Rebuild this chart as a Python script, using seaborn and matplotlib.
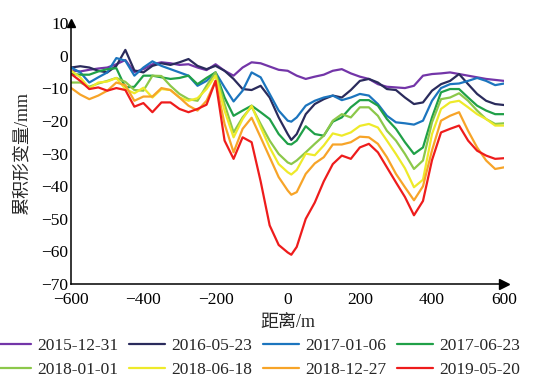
import pandas as pd
import matplotlib
matplotlib.use('Agg')
import matplotlib.pyplot as plt
import seaborn as sns

# distance along the profile (m)
distance = list(range(-600, 1, 25)) + [10] + list(range(25, 601, 25))

dates = ['2015-12-31', '2016-05-23', '2017-01-06', '2017-06-23',
         '2018-01-01', '2018-06-18', '2018-12-27', '2019-05-20']
colors = ['#7335A8', '#2A2B5C', '#1C75BE', '#20A048',
          '#8CC84A', '#EEEA2A', '#F7A428', '#EE1C1C']

# cumulative deformation (mm)
d_20151231 = [-4.5, -4.8, -4.3, -3.9, -3.6, -2.6, -1.3, -5.0, -4.1, -2.6,
              -2.0, -2.3, -2.8, -2.6, -3.6, -4.4, -2.6, -4.6, -6.1, -3.6,
              -2.0, -2.3, -3.3, -4.3, -4.6, -5.2, -6.1, -7.1, -6.4, -5.8,
              -4.6, -4.1, -5.4, -6.4, -7.1, -8.7, -9.5, -9.7, -9.9, -9.2,
              -6.1, -5.6, -5.4, -5.1, -5.6, -6.1, -6.6, -7.1, -7.4, -7.7]
d_20160523 = [-3.6, -3.2, -3.6, -4.6, -5.1, -3.1, 1.8, -4.5, -5.1, -3.1,
              -2.3, -2.8, -2.0, -1.0, -3.1, -4.1, -3.1, -4.6, -7.1, -10.2,
              -10.5, -9.2, -12.8, -18.9, -24.0, -25.8, -24.0, -17.9, -14.8, -13.3,
              -12.2, -12.8, -10.5, -7.7, -7.1, -8.2, -10.2, -10.5, -12.8, -14.8,
              -14.3, -10.7, -8.7, -7.7, -5.6, -8.7, -11.7, -13.8, -14.8, -15.1]
d_20170106 = [-3.6, -5.1, -8.2, -6.6, -5.1, -0.7, -1.5, -6.1, -3.6, -1.7,
              -3.1, -4.1, -5.1, -6.1, -9.2, -7.7, -5.1, -9.7, -14.0, -10.7,
              -5.1, -6.6, -11.7, -16.8, -19.9, -20.2, -18.9, -15.3, -13.8, -12.8,
              -12.2, -13.6, -12.8, -11.7, -12.2, -14.8, -18.4, -20.4, -20.7, -21.1,
              -19.9, -13.8, -9.9, -8.7, -8.5, -7.7, -6.8, -7.7, -9.0, -8.5]
d_20170623 = [-5.6, -5.8, -5.8, -4.8, -4.1, -3.8, -9.7, -9.5, -6.1, -6.1,
              -6.6, -7.1, -6.8, -6.1, -8.7, -6.8, -5.1, -12.8, -18.4, -16.8,
              -15.3, -17.3, -19.4, -24.0, -27.0, -27.2, -26.0, -21.6, -24.0, -24.5,
              -20.2, -18.9, -15.8, -13.6, -13.6, -15.3, -19.4, -22.4, -26.5, -30.1,
              -28.1, -18.9, -11.2, -10.2, -10.2, -12.8, -15.3, -16.8, -17.9, -17.9]
d_20180101 = [-8.2, -8.2, -9.5, -8.5, -7.7, -6.8, -8.0, -10.5, -10.7, -6.1,
              -6.2, -9.2, -11.7, -13.3, -13.8, -9.2, -5.1, -14.8, -23.5, -18.9,
              -15.6, -20.9, -26.0, -30.1, -32.7, -33.2, -32.1, -29.6, -27.0, -24.5,
              -19.9, -17.9, -18.9, -15.8, -15.8, -18.4, -23.0, -26.0, -30.1, -34.7,
              -32.1, -20.4, -13.3, -12.8, -11.5, -13.8, -16.8, -19.4, -20.9, -20.7]
d_20180618 = [-4.6, -6.6, -10.0, -8.2, -7.9, -6.8, -10.2, -11.5, -9.8, -12.8,
              -10.2, -10.5, -12.8, -13.8, -13.0, -10.2, -6.1, -16.8, -25.0, -19.4,
              -15.3, -21.9, -28.1, -33.2, -35.7, -36.4, -35.0, -30.0, -30.5, -27.5,
              -23.8, -24.5, -23.5, -21.5, -20.9, -22.0, -26.0, -30.1, -34.5, -40.3,
              -38.0, -24.0, -16.3, -14.3, -13.8, -15.8, -17.9, -19.4, -21.4, -21.4]
d_20181227 = [-9.9, -11.9, -13.3, -12.2, -10.7, -8.2, -9.0, -13.8, -12.5, -12.5,
              -9.9, -10.5, -12.8, -15.3, -16.8, -13.8, -7.7, -20.9, -29.6, -22.4,
              -19.0, -25.0, -31.1, -37.2, -41.3, -42.6, -41.8, -36.2, -33.0, -31.1,
              -27.2, -27.2, -26.5, -24.8, -25.0, -27.0, -31.1, -36.2, -40.3, -44.3,
              -40.0, -29.0, -19.9, -18.4, -17.3, -23.0, -28.1, -32.1, -34.7, -34.2]
d_20190520 = [-5.6, -7.7, -10.2, -9.7, -10.7, -9.9, -10.5, -15.6, -14.5, -17.3,
              -14.3, -14.3, -16.3, -17.3, -16.3, -15.0, -7.7, -26.0, -31.6, -25.0,
              -26.5, -38.5, -52.0, -58.0, -60.3, -61.0, -58.6, -50.0, -45.0, -38.5,
              -33.2, -30.6, -31.6, -28.1, -27.0, -29.6, -34.2, -38.8, -43.3, -48.9,
              -44.5, -32.0, -23.5, -22.4, -21.4, -26.0, -29.1, -30.6, -31.6, -31.4]

series = [d_20151231, d_20160523, d_20170106, d_20170623,
          d_20180101, d_20180618, d_20181227, d_20190520]

frames = []
for date, vals in zip(dates, series):
    frames.append(pd.DataFrame({'distance': distance, 'value': vals, 'date': date}))
df = pd.concat(frames, ignore_index=True)

sns.set_style('white')
plt.rcParams['font.family'] = ['Liberation Serif', 'Noto Sans CJK SC']
plt.rcParams['axes.unicode_minus'] = True

fig = plt.figure(figsize=(5.48, 3.86), dpi=100)
ax = fig.add_axes([0.13, 0.264, 0.79, 0.676])

sns.lineplot(data=df, x='distance', y='value', hue='date', palette=colors,
             linewidth=1.6, ax=ax, solid_joinstyle='round')

ax.set_xlim(-600, 600)
ax.set_ylim(-70, 10)
ax.set_xticks(range(-600, 601, 200))
ax.set_yticks(range(-70, 11, 10))
ax.tick_params(axis='both', direction='in', length=4, width=1,
               labelsize=12.5, colors='black', pad=2)
ax.tick_params(axis='x', pad=6)
ax.spines['top'].set_visible(False)
ax.spines['right'].set_visible(False)
for s in ['left', 'bottom']:
    ax.spines[s].set_color('black')
    ax.spines[s].set_linewidth(1.1)

# arrow heads on the axes
ax.plot(1, 0, '>k', markersize=7, transform=ax.transAxes, clip_on=False)
ax.plot(0, 1, '^k', markersize=6, transform=ax.transAxes, clip_on=False)

ax.set_xlabel('距离/m', fontsize=13, labelpad=4)
ax.set_ylabel('累积形变量/mm', fontsize=13, labelpad=8)

# legend filled row by row (matplotlib fills columns first)
handles, labels = ax.get_legend_handles_labels()
ax.legend_.remove()
order = [0, 4, 1, 5, 2, 6, 3, 7]
fig.legend([handles[i] for i in order], [labels[i] for i in order],
           ncol=4, loc='lower center',
           bbox_to_anchor=(0.47, -0.02), frameon=False, fontsize=12.5,
           handlelength=2.1, handletextpad=0.35, columnspacing=0.6,
           labelspacing=0.45)

fig.savefig('out.png', dpi=100)
